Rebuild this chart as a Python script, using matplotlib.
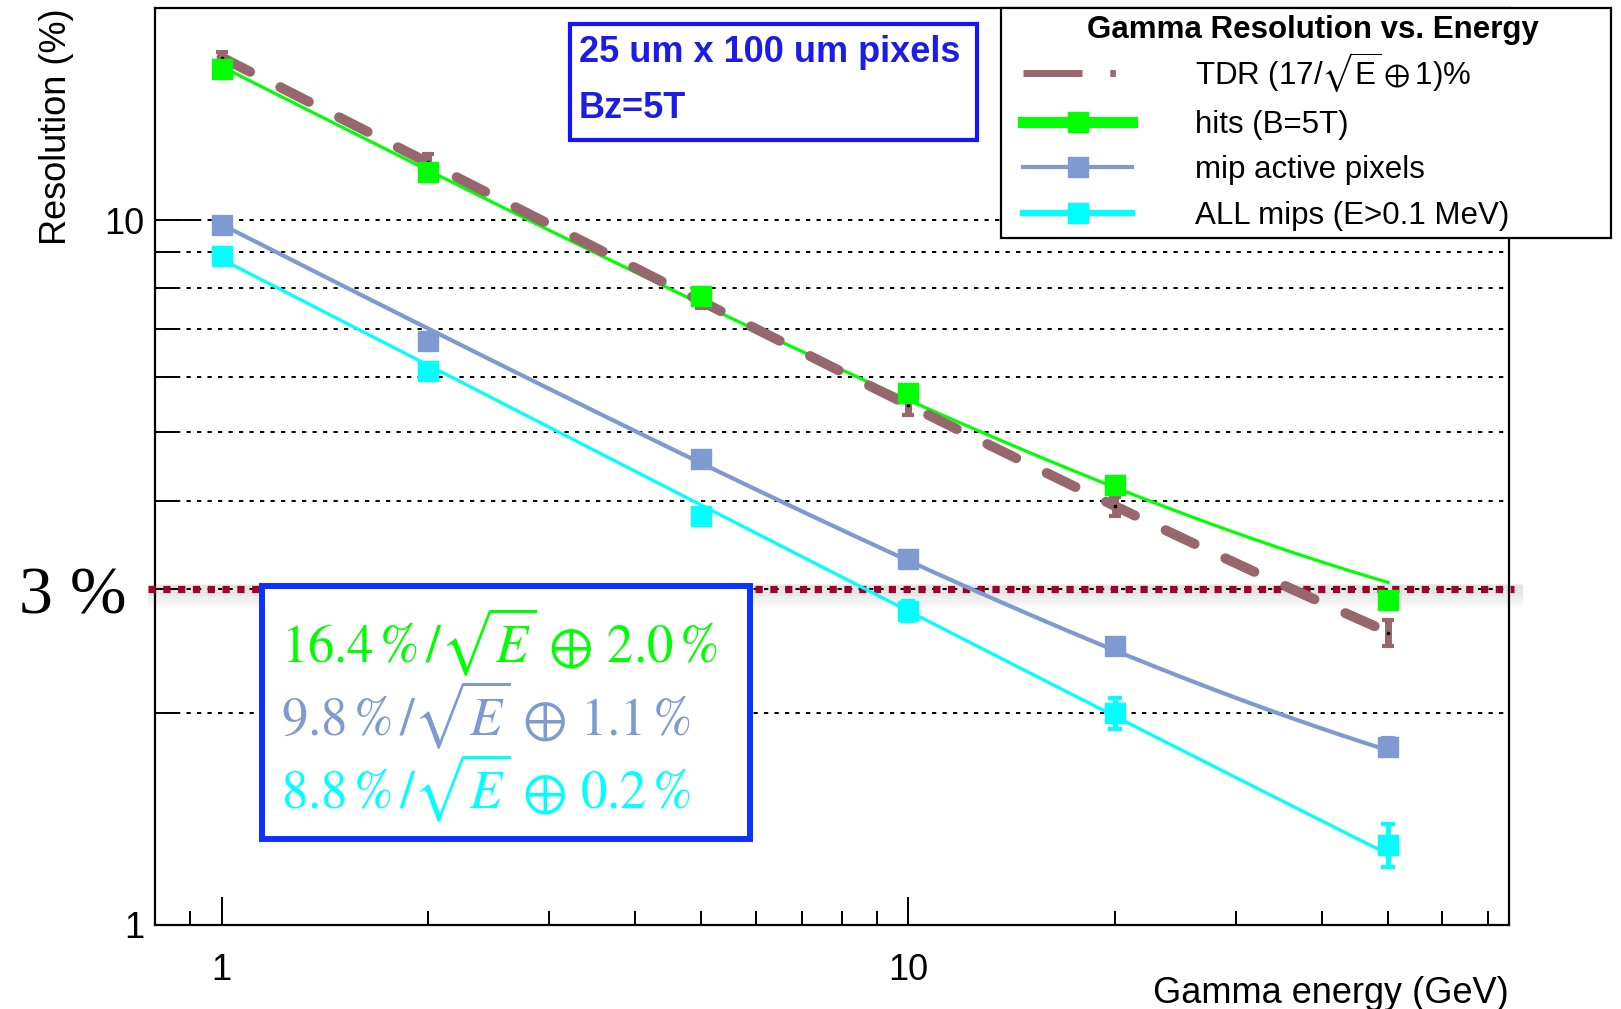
import numpy as np
import matplotlib
matplotlib.use("Agg")
import matplotlib.pyplot as plt
from matplotlib.lines import Line2D
from matplotlib.patches import Rectangle
from matplotlib.ticker import FixedLocator, LogLocator, NullFormatter, FixedFormatter
from matplotlib.transforms import offset_copy

# ---------------- data ----------------
energy = [1, 2, 5, 10, 20, 50]
tdr_res = [17.0, 12.1, 7.7, 5.47, 3.93, 2.60]
tdr_err = [0.35, 0.30, 0.20, 0.18, 0.12, 0.11]
hits_res = [16.4, 11.7, 7.8, 5.69, 4.21, 2.89]
hits_err = [0.10, 0.10, 0.08, 0.08, 0.07, 0.07]
mip_res = [9.84, 6.73, 4.59, 3.31, 2.49, 1.79]
mip_err = [0.05, 0.05, 0.05, 0.05, 0.05, 0.05]
allmip_res = [8.91, 6.10, 3.80, 2.79, 2.00, 1.30]
allmip_err = [0.05, 0.05, 0.07, 0.09, 0.10, 0.09]

# fit parameters: stochastic term (%), constant term (%)
tdr_fit = (17.0, 1.0)
hits_fit = (16.4, 2.0)
mip_fit = (9.8, 1.1)
allmip_fit = (8.8, 0.2)

legend_title = "Gamma Resolution vs. Energy"
legend_labels = [r"TDR (17/$\sqrt{\mathregular{E}}\oplus$1)%", "hits (B=5T)",
                 "mip active pixels", "ALL mips (E>0.1 MeV)"]
formula_texts = [r"$16.4\,\%\,/\sqrt{E}\,\oplus\,2.0\,\%$",
                 r"$9.8\,\%\,/\sqrt{E}\,\oplus\,1.1\,\%$",
                 r"$8.8\,\%\,/\sqrt{E}\,\oplus\,0.2\,\%$"]
threshold = 3.0
xticks = [1, 10]
xticklabels = ["1", "10"]
yticks = [1, 10]
yticklabels = ["1", "10"]

# ---------------- style ----------------
plt.rcParams["font.family"] = ["Liberation Sans", "DejaVu Sans"]
plt.rcParams["mathtext.fontset"] = "stix"

c_tdr = "#96686e"
c_hits = "#00ff00"
c_mip = "#7f99d1"
c_all = "#00ffff"
c_red = "#a1022b"
c_box = "#0a32ff"
c_txt = "#1c1ce8"

W, H = 1621, 1009
fig = plt.figure(figsize=(W / 100, H / 100), dpi=100)
L, R, T, B = 155, 1509, 8, 925
ax = fig.add_axes([L / W, 1 - B / H, (R - L) / W, (B - T) / H])
ax.set_xscale("log")
ax.set_yscale("log")
ax.set_xlim(0.8, 75)
ax.set_ylim(1, 20)

for s in ax.spines.values():
    s.set_linewidth(1.6)

ax.xaxis.set_major_locator(FixedLocator(xticks))
ax.xaxis.set_major_formatter(FixedFormatter(xticklabels))
ax.yaxis.set_major_locator(FixedLocator(yticks))
ax.yaxis.set_major_formatter(FixedFormatter(yticklabels))
ax.xaxis.set_minor_locator(LogLocator(base=10, subs=np.arange(2, 10), numticks=20))
ax.yaxis.set_minor_locator(LogLocator(base=10, subs=np.arange(2, 10), numticks=20))
ax.xaxis.set_minor_formatter(NullFormatter())
ax.yaxis.set_minor_formatter(NullFormatter())
ax.tick_params(axis="x", which="major", direction="in", length=20, width=1.4,
               labelsize=26, pad=20)
ax.tick_params(axis="x", which="minor", direction="in", length=10, width=1.4)
ax.tick_params(axis="y", which="major", direction="in", length=30, width=1.4,
               labelsize=26, pad=8)
ax.tick_params(axis="y", which="minor", direction="in", length=16, width=1.4)
ax.grid(axis="y", which="both", color="k", linestyle=(0, (2.2, 3.2)), linewidth=1.4)
ax.set_axisbelow(True)

# shadow under 3% line
for k in range(14):
    tr = offset_copy(ax.get_yaxis_transform(), fig=fig, x=0, y=-(k * 1.6 - 3), units="dots")
    ax.plot([-0.005, 1.01], [threshold, threshold], transform=tr, color="0.3",
            alpha=0.07 * (1 - k / 15), lw=3, solid_capstyle="butt", clip_on=False, zorder=3)

# 3% reference line
ax.plot([-0.005, 1.004], [threshold, threshold], transform=ax.get_yaxis_transform(),
        color=c_red, lw=5.2, linestyle=(0, (1, 1.05)), clip_on=False, zorder=4)

# fit curves
e_dense = np.geomspace(energy[0], energy[-1], 300)
def fit_curve(p):
    return np.hypot(p[0] / np.sqrt(e_dense), p[1])

ax.plot(e_dense, fit_curve(allmip_fit), color=c_all, lw=2.3, zorder=5)
ax.plot(e_dense, fit_curve(mip_fit), color=c_mip, lw=3.0, zorder=5)
ax.plot(e_dense, fit_curve(hits_fit), color=c_hits, lw=2.3, zorder=5)
ax.plot(e_dense, fit_curve(tdr_fit), color=c_tdr, lw=7.2, linestyle=(0, (3.2, 3.4)),
        dash_capstyle="round", zorder=6)

# data points
ax.errorbar(energy, tdr_res, yerr=tdr_err, fmt="none", ecolor=c_tdr, elinewidth=5,
            capsize=4, capthick=3, zorder=6)
ax.plot(energy, tdr_res, ls="none", marker="s", ms=2, color="k", zorder=7)
for res, err, col in [(allmip_res, allmip_err, c_all), (mip_res, mip_err, c_mip),
                      (hits_res, hits_err, c_hits)]:
    ax.errorbar(energy, res, yerr=err, fmt="s", color=col, ms=15, mec=col,
                elinewidth=3.5, capsize=5, capthick=3, zorder=7)

# formula box
fig.patches.append(Rectangle((262 / W, 1 - 839 / H), (750 - 262) / W, (839 - 586) / H,
                             transform=fig.transFigure, facecolor="white",
                             edgecolor=c_box, lw=4.3, zorder=8))
for txt, col, base in zip(formula_texts, [c_hits, c_mip, c_all], [662, 735, 808]):
    fig.text(281 / W, 1 - base / H, txt, color=col, fontsize=38, ha="left",
             va="baseline", zorder=9)

# 3 % label
fig.text(19 / W, 1 - 614 / H, "3 %", family="Liberation Serif", fontsize=49,
         ha="left", va="baseline")

# top-left info box
fig.patches.append(Rectangle((570 / W, 1 - 140 / H), (977 - 570) / W, (140 - 24) / H,
                             transform=fig.transFigure, facecolor="white",
                             edgecolor="#1414ff", lw=3.0, zorder=8))
fig.text(579 / W, 1 - 52 / H, "25 um x 100 um pixels", color=c_txt, fontsize=26,
         fontweight="bold", ha="left", va="center", zorder=9)
fig.text(579 / W, 1 - 109 / H, "Bz=5T", color=c_txt, fontsize=26,
         fontweight="bold", ha="left", va="center", zorder=9)

# legend: frame, title and entries
fig.patches.append(Rectangle((1001 / W, 1 - 238 / H), (1611 - 1001) / W, (238 - 8) / H,
                             transform=fig.transFigure, facecolor="white",
                             edgecolor="k", lw=1.6, zorder=10))
fig.text(1313 / W, 1 - 30 / H, legend_title, fontsize=22.5, fontweight="bold",
         ha="center", va="center", zorder=11)
handles = [
    Line2D([], [], color=c_tdr, lw=5, linestyle=(0, (8.5, 4, 0.8, 4))),
    Line2D([], [], color=c_hits, lw=8, marker="s", ms=14),
    Line2D([], [], color=c_mip, lw=3, marker="s", ms=14),
    Line2D([], [], color=c_all, lw=4.5, marker="s", ms=14),
]
leg = fig.legend(handles, legend_labels, loc="upper left",
                 bbox_to_anchor=(1023 / W, 1 - 50 / H), bbox_transform=fig.transFigure,
                 borderaxespad=0, borderpad=0, fontsize=22.5,
                 handlelength=3.5, handletextpad=2.0, labelspacing=0.5,
                 frameon=False)
leg.set_zorder(12)

# axis titles
fig.text(57 / W, 1 - 8 / H, "Resolution (%)", rotation=90, fontsize=26,
         ha="center", va="top")
fig.text(R / W, 1 - 1003 / H, "Gamma energy (GeV)", fontsize=26, ha="right",
         va="baseline")

fig.savefig("out.png", dpi=100)
